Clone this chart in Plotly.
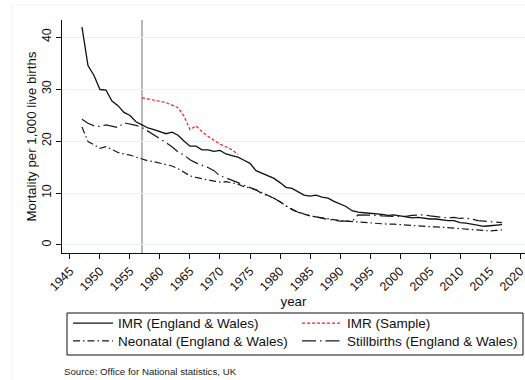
import plotly.graph_objects as go

# Mortality per 1,000 live births, England & Wales
years = list(range(1947, 2018))

imr_ew = [41.9, 34.5, 32.6, 29.9, 29.8, 27.7, 26.8, 25.5, 24.9, 23.7,
          23.1, 22.5, 22.2, 21.8, 21.4, 21.7, 21.1, 20.0, 19.0, 19.0,
          18.3, 18.3, 18.0, 18.2, 17.5, 17.2, 16.9, 16.3, 15.7, 14.3,
          13.8, 13.2, 12.8, 12.0, 11.1, 10.9, 10.2, 9.6, 9.4, 9.6,
          9.2, 9.0, 8.4, 7.9, 7.4, 6.6, 6.3, 6.2, 6.1, 6.1,
          5.9, 5.7, 5.8, 5.6, 5.4, 5.2, 5.3, 5.1, 5.0, 5.0,
          4.8, 4.7, 4.7, 4.3, 4.2, 4.0, 3.8, 3.6, 3.7, 3.8, 3.9]

neonatal_ew = [22.7, 19.9, 19.3, 18.6, 18.9, 18.3, 17.8, 17.5, 17.3, 16.9,
               16.5, 16.2, 16.0, 15.7, 15.4, 15.2, 14.7, 14.0, 13.3, 13.0,
               12.7, 12.5, 12.3, 12.1, 12.2, 11.9, 11.7, 11.2, 11.0, 10.6,
               10.1, 9.6, 9.0, 8.3, 7.6, 6.8, 6.3, 5.9, 5.6, 5.4,
               5.2, 5.0, 4.9, 4.7, 4.6, 4.5, 4.4, 4.3, 4.3, 4.2,
               4.1, 4.0, 4.0, 3.9, 3.8, 3.7, 3.7, 3.6, 3.5, 3.5,
               3.4, 3.3, 3.3, 3.2, 3.1, 3.0, 2.9, 2.8, 2.7, 2.8, 2.9]

stillbirths_ew = [24.2, 23.4, 22.9, 22.8, 23.1, 22.9, 22.6, 23.5, 23.3, 23.0,
                  22.6, 21.9, 21.1, 20.5, 19.7, 18.9, 17.9, 17.3, 16.4, 15.8,
                  15.4, 14.9, 14.3, 13.3, 12.9, 12.5, 12.0, 11.5, 11.1, 10.6,
                  9.9, 9.4, 9.0, 8.3, 7.5, 6.9, 6.3, 6.0, 5.6, 5.4,
                  5.1, 4.9, 4.8, 4.6, 4.6, 4.5, 5.8, 5.8, 5.7, 5.7,
                  5.6, 5.5, 5.5, 5.5, 5.5, 5.7, 5.8, 5.8, 5.6, 5.5,
                  5.3, 5.2, 5.3, 5.1, 5.2, 4.9, 4.7, 4.6, 4.5, 4.4, 4.3]

sample_years = list(range(1957, 1974))
imr_sample = [28.3, 28.1, 27.9, 27.7, 27.4, 26.9, 26.4, 24.8, 22.2, 22.9,
              21.8, 20.9, 20.1, 19.4, 18.9, 18.3, 17.4]

x_ticks = list(range(1945, 2021, 5))
y_ticks = [0, 10, 20, 30, 40]
marker_year = 1957

FONT = "Liberation Sans, Arial, Helvetica, sans-serif"
GRID = "#eaf2f3"
LEGEND_FONT = dict(family=FONT, size=13.5, color="#111111")

fig = go.Figure()
fig.add_trace(go.Scatter(x=years, y=imr_ew, mode="lines",
                         name="IMR (England & Wales)", legend="legend",
                         line=dict(color="#111111", width=1.3)))
fig.add_trace(go.Scatter(x=sample_years, y=imr_sample, mode="lines",
                         name="IMR (Sample)", legend="legend",
                         line=dict(color="#ff1a1a", width=1.2, dash="3px,2px")))
fig.add_trace(go.Scatter(x=years, y=neonatal_ew, mode="lines",
                         name="Neonatal (England & Wales)", legend="legend2",
                         line=dict(color="#1a1a1a", width=1.2,
                                   dash="7px,3px,1.5px,3px")))
fig.add_trace(go.Scatter(x=years, y=stillbirths_ew, mode="lines",
                         name="Stillbirths (England & Wales)", legend="legend2",
                         line=dict(color="#1a1a1a", width=1.2,
                                   dash="14px,4px,1.5px,4px")))

# reference year marker
fig.add_vline(x=marker_year, line=dict(color="#a0a0a0", width=1.5), layer="below")

# faint outer region frame
fig.add_shape(type="rect", xref="paper", yref="paper",
              x0=-0.108, x1=1.05, y0=-1.0, y1=1.0644,
              line=dict(color="#eef3f4", width=1), layer="below")

# frame around the two-row key
fig.add_shape(type="rect", xref="paper", yref="paper",
              x0=(67 - 62) / 463, x1=(523 - 62) / 463,
              y0=-(355 - 253) / 233, y1=-(313 - 253) / 233,
              line=dict(color="#111111", width=1))

fig.add_annotation(text="Source: Office for National statistics, UK",
                   xref="paper", yref="paper", x=0.0, y=-0.51,
                   xanchor="left", yanchor="middle", showarrow=False,
                   font=dict(family=FONT, size=9.7, color="#222222"))

legend_common = dict(orientation="h", xanchor="left", yanchor="top",
                     x=0.013, borderwidth=0, bgcolor="rgba(0,0,0,0)",
                     font=LEGEND_FONT, entrywidth=174, itemwidth=40,
                     traceorder="normal")

fig.update_layout(
    width=525, height=380,
    margin=dict(l=62, r=0, t=20, b=127, autoexpand=False),
    paper_bgcolor="white", plot_bgcolor="white",
    font=dict(family=FONT, color="#111111"),
    showlegend=True,
    legend=dict(y=-0.235, **legend_common),
    legend2=dict(y=-0.312, **legend_common),
    xaxis=dict(range=[1943.67, 2020.83], tickmode="array", tickvals=x_ticks,
               ticktext=[str(t) for t in x_ticks], tickangle=-45,
               ticklabeloverflow="allow",
               ticks="outside", ticklen=5, tickcolor="#111111",
               showline=True, linecolor="#111111", linewidth=1,
               showgrid=False, zeroline=False, automargin=False,
               tickfont=dict(family=FONT, size=12.5),
               title=dict(text="year", font=dict(family=FONT, size=13.3),
                          standoff=1)),
    yaxis=dict(range=[-1.54, 43.27], tickmode="array", tickvals=y_ticks,
               ticktext=[str(t) for t in y_ticks], tickangle=-90,
               ticks="outside", ticklen=5, tickcolor="#111111",
               showline=True, linecolor="#111111", linewidth=1,
               showgrid=True, gridcolor=GRID, gridwidth=1.2, zeroline=False,
               automargin=False,
               tickfont=dict(family=FONT, size=12.5),
               title=dict(text="Mortality per 1,000 live births",
                          font=dict(family=FONT, size=13.3), standoff=0)),
)

fig.write_html("out.html")
